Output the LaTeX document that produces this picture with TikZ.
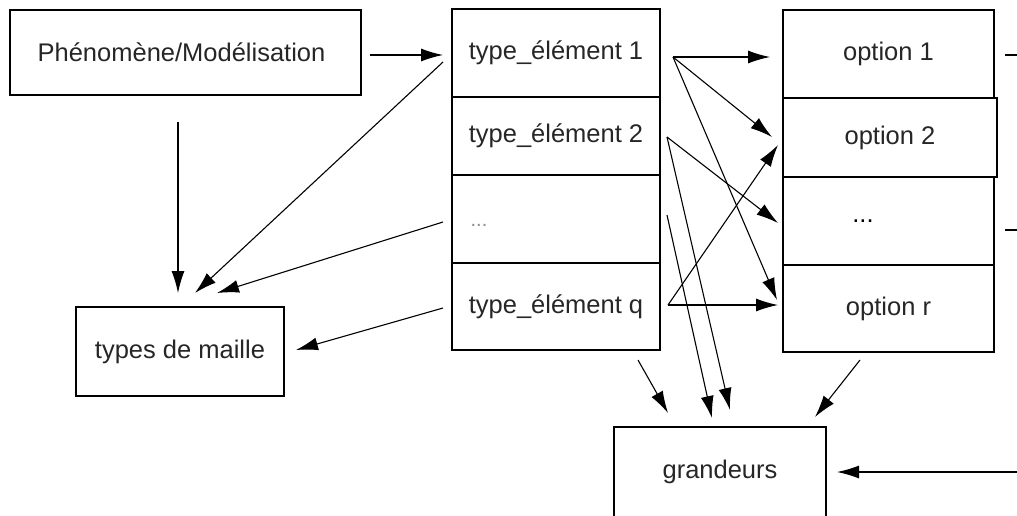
\documentclass[tikz,border=0pt]{standalone}
\usepackage{fontspec}
\setmainfont{Liberation Sans}
\usetikzlibrary{arrows.meta}
\begin{document}
\begin{tikzpicture}[x=1pt,y=-1pt,
  box/.style={draw, line width=1.5pt, inner sep=0pt, font=\fontsize{25.5}{30}\selectfont, text=black!85},
  conn/.style={line width=1.1pt, -{Latex[length=22pt,width=13pt]}},
  plain/.style={line width=1.1pt},
]
\useasboundingbox (0,0) rectangle (1017,515);
% boxes
\node[box, minimum width=351pt, minimum height=85pt] (phen) at (185.5,52.5) {\raisebox{-2pt}{Phénomène/Modélisation}\hspace*{8pt}};
\node[box, minimum width=208pt, minimum height=89pt] (maille) at (180,351.5) {\raisebox{-2pt}{types de maille}};
\node[box, minimum width=208pt, minimum height=88pt] (t1) at (556,53) {\raisebox{-3pt}{type\_élément 1}};
\node[box, minimum width=208pt, minimum height=78pt] (t2) at (556,136) {\raisebox{-2pt}{type\_élément 2}};
\node[box, minimum width=208pt, minimum height=88pt] (t3) at (556,219) {};
\node[box, minimum width=208pt, minimum height=87pt] (tq) at (556,306.5) {\raisebox{-2pt}{type\_élément q}};
\node[font=\fontsize{20}{24}\selectfont, text=black!45] (t3dots) at (479,225) {...};
\node[box, minimum width=211pt, minimum height=88pt] (o1) at (888.5,54) {\raisebox{-2pt}{option 1}};
\node[box, minimum width=214pt, minimum height=79pt] (o2) at (890,137.5) {option 2};
\node[box, minimum width=211pt, minimum height=88pt] (o3) at (888.5,221) {};
\node[font=\fontsize{25.5}{30}\selectfont] (o3dots) at (863,221) {...};
\node[box, minimum width=211pt, minimum height=87pt] (o4) at (888.5,308.5) {option r};
\node[box, minimum width=212pt, minimum height=90pt] (gr) at (720,472) {grandeurs};
% connector end points
\coordinate (phenOut) at (370,55);
\coordinate (t1In) at (443,55);
\coordinate (phenDown) at (178,122);
\coordinate (mailleTop) at (178,293);
\coordinate (t1Left) at (443,62);
\coordinate (mailleTopB) at (195,293);
\coordinate (t3Left) at (443,222);
\coordinate (mailleTopC) at (217,293);
\coordinate (tqLeft) at (443,308);
\coordinate (mailleRight) at (296,350);
\coordinate (t1Out) at (673,57);
\coordinate (o1In) at (770,57);
\coordinate (o2InA) at (772,137);
\coordinate (o4InA) at (777,300);
\coordinate (t2Out) at (667,137);
\coordinate (o3In) at (778,223);
\coordinate (grInA) at (730,410);
\coordinate (t3Out) at (667,215);
\coordinate (grInB) at (712,418);
\coordinate (tqOut) at (668,305);
\coordinate (o2InB) at (778,145);
\coordinate (o4InB) at (778,305);
\coordinate (tBot) at (638,360);
\coordinate (grInC) at (668,413);
\coordinate (oBot) at (860,360);
\coordinate (grInD) at (815,417);
\coordinate (rightIn) at (1017,472);
\coordinate (grRight) at (837,472);
\coordinate (o1OutA) at (1005,55);
\coordinate (o1OutB) at (1017,55);
\coordinate (o3OutA) at (1005,230);
\coordinate (o3OutB) at (1017,230);
% connectors
\draw[conn] (phenOut) -- (t1In);
\draw[conn] (phenDown) -- (mailleTop);
\draw[conn] (t1Left) -- (mailleTopB);
\draw[conn] (t3Left) -- (mailleTopC);
\draw[conn] (tqLeft) -- (mailleRight);
\draw[conn] (t1Out) -- (o1In);
\draw[conn] (t1Out) -- (o2InA);
\draw[conn] (t1Out) -- (o4InA);
\draw[conn] (t2Out) -- (o3In);
\draw[conn] (t2Out) -- (grInA);
\draw[conn] (t3Out) -- (grInB);
\draw[conn] (tqOut) -- (o2InB);
\draw[conn] (tqOut) -- (o4InB);
\draw[conn] (tBot) -- (grInC);
\draw[conn] (oBot) -- (grInD);
\draw[conn] (rightIn) -- (grRight);
\draw[plain] (o1OutA) -- (o1OutB);
\draw[plain] (o3OutA) -- (o3OutB);
\end{tikzpicture}
\end{document}
